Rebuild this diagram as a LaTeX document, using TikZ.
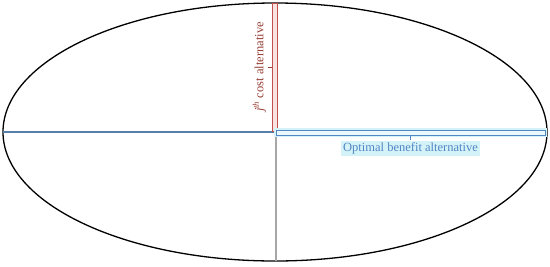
\documentclass[tikz,border=0pt]{standalone}
\usepackage{fontspec}
\setmainfont{Liberation Serif}
\usetikzlibrary{positioning,calc}
\definecolor{costred}{RGB}{192,80,77}
\definecolor{costfill}{RGB}{250,226,224}
\definecolor{costtext}{RGB}{150,62,52}
\definecolor{benblue}{RGB}{84,134,196}
\definecolor{benglow}{RGB}{212,243,249}
\definecolor{axisblue}{RGB}{88,128,168}
\tikzset{
  rim/.style={line width=1.3pt, black},
  axisln/.style={line width=1.1pt},
  barbox/.style={line width=0.7pt, inner sep=0pt},
  tickln/.style={line width=0.8pt},
  lbl/.style={inner sep=2pt, font=\fontsize{12.5}{14}\selectfont},
}
\begin{document}
\begin{tikzpicture}[x=1pt,y=-1pt]
  \useasboundingbox (0,0) rectangle (550,266);
  % --- frame ---
  \coordinate (O) at (275,132);
  \coordinate (L) at (3,132);
  \coordinate (B) at (276,261);
  \draw[rim] (O) ellipse [x radius=272pt, y radius=129pt];
  \draw[axisln, axisblue] (L) -- (O);
  \draw[axisln, gray!70] (O -| B) -- (B);
  % --- cost bar ---
  \node (costbar) [barbox, draw=costred, fill=costfill,
    minimum width=4.5pt, minimum height=128pt] at (274.75,67) {};
  \node (costlbl) [lbl, text=costtext, rotate=90, anchor=south]
    at ([xshift=-4pt]costbar.west) {\textit{j}\textsuperscript{\textit{th}} cost alternative};
  \draw[tickln, costtext] (costbar.west) -- (costlbl.south);
  % --- benefit bar ---
  \node (benbar) [barbox, draw=benblue, fill=benglow!50,
    preaction={draw=benglow, line width=4pt},
    minimum width=269pt, minimum height=5pt] at (410.5,132.5) {};
  \node (benlbl) [lbl, text=benblue, fill=benglow, below=5pt of benbar]
    {Optimal benefit alternative};
  \draw[tickln, benblue] (benbar.south) -- (benlbl.north);
\end{tikzpicture}
\end{document}
